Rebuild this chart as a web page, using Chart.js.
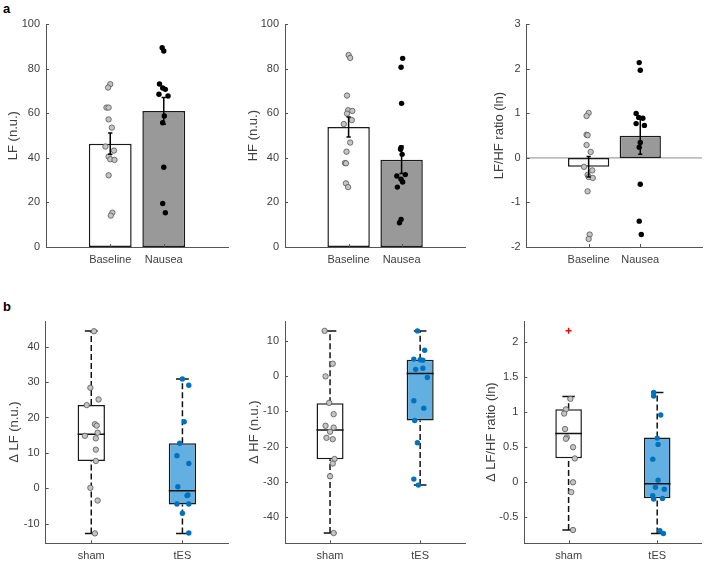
<!DOCTYPE html>
<html>
<head>
<meta charset="utf-8">
<title>HRV figure</title>
<script src="https://cdn.jsdelivr.net/npm/chart.js@4.4.1/dist/chart.umd.min.js"></script>
<style>
    html, body { margin: 0; padding: 0; background: #fff; }
    #figure { position: relative; width: 707px; height: 562px; overflow: hidden; }
    #figure canvas { position: absolute; }
    .panel-label { position: absolute; font: bold 13px "Liberation Sans", Arial, sans-serif; line-height: 13px; color: #000; }
</style>
</head>
<body>
<div id="figure">
    <div class="panel-label" style="left:3px;top:2px">a</div>
    <div class="panel-label" style="left:3px;top:300px">b</div>
    <canvas id="lfChart"></canvas>
    <canvas id="hfChart"></canvas>
    <canvas id="ratioChart"></canvas>
    <canvas id="dLfChart"></canvas>
    <canvas id="dHfChart"></canvas>
    <canvas id="dRatioChart"></canvas>
</div>
<script>
// ---------- panel a: group means, SEM and single subjects ----------
const groupLabels = ['Baseline', 'Nausea'];

const lfMean = [46.4, 61.1];
const lfSem = [4.8, 6.0];
const lfBaseline = [73.1, 71.6, 62.6, 62.6, 57.3, 53.6, 45.1, 43.3, 40.6, 39.4, 39.1, 32.2, 15.4, 14.1];
const lfBaselineJitter = [0, -0.04, -0.07, -0.03, -0.03, 0.03, -0.09, 0.07, -0.03, 0, 0.08, -0.03, 0.04, 0.01];
const lfNausea = [89.5, 88.0, 73.2, 71.4, 70.8, 68.6, 67.8, 58.8, 55.8, 35.8, 19.5, 15.4];
const lfNauseaJitter = [-0.03, 0, -0.08, -0.02, 0.03, -0.09, 0.08, 0.01, -0.02, 0, -0.02, 0.03];

const hfMean = [53.9, 39.2];
const hfSem = [4.5, 6.2];
const hfBaseline = [86.2, 84.9, 68.0, 61.4, 61.1, 59.9, 57.0, 55.2, 46.9, 42.8, 37.7, 37.6, 28.6, 26.9];
const hfBaselineJitter = [0, 0.03, -0.03, -0.01, 0.07, -0.03, 0.06, -0.09, 0.03, -0.04, -0.07, -0.05, -0.05, -0.01];
const hfNausea = [84.7, 80.7, 64.5, 44.6, 43.9, 41.6, 32.5, 31.9, 30.4, 29.2, 26.9, 12.4, 10.9];
const hfNauseaJitter = [0.02, -0.01, 0, -0.01, -0.02, 0.01, 0.07, -0.09, -0.01, 0.02, -0.08, -0.01, -0.04];

const ratioMean = [-0.2, 0.5];
const ratioSem = [0.23, 0.42];
const ratioBaseline = [1.01, 0.94, 0.52, 0.51, 0.29, 0.135, -0.2, -0.28, -0.38, -0.43, -0.45, -0.75, -1.72, -1.82];
const ratioBaselineJitter = [0, -0.04, -0.04, -0.02, -0.04, 0.04, -0.09, 0.07, -0.02, 0, 0.08, -0.02, 0.02, 0];
const ratioNausea = [2.14, 1.97, 1.0, 0.91, 0.89, 0.77, 0.73, 0.345, 0.24, -0.59, -1.42, -1.72];
const ratioNauseaJitter = [-0.02, 0, -0.08, -0.03, 0.05, -0.08, 0.08, 0, -0.02, 0, -0.02, 0.02];

const pctTicks = [0, 20, 40, 60, 80, 100];
const ratioTicks = [-2, -1, 0, 1, 2, 3];

// ---------- panel b: change scores, sham vs tES ----------
const condLabels = ['sham', 'tES'];

// five-number summaries: [lower whisker, Q1, median, Q3, upper whisker]
const dLfSham = [-12.8, 7.7, 15.25, 23.5, 44.5];
const dLfTes = [-12.8, -4.6, -0.7, 12.7, 30.9];
const dHfSham = [-44.5, -23.6, -15.3, -7.7, 12.8];
const dHfTes = [-30.9, -12.6, 0.75, 4.6, 12.8];
const dRatioSham = [-0.68, 0.343, 0.695, 1.04, 1.224];
const dRatioTes = [-0.73, -0.229, -0.02, 0.638, 1.28];
const dRatioShamOutliers = [2.16];

const dLfShamPts = [44.4, 28.4, 25.1, 23.5, 18.1, 17.7, 15.7, 14.8, 14.1, 10.9, 7.7, 0.1, -3.5, -12.8];
const dLfShamJitter = [0.03, -0.01, 0.08, -0.05, 0.04, 0.06, 0.07, -0.07, 0.05, 0.05, 0.05, -0.01, 0.07, 0.04];
const dLfTesPts = [30.9, 29.1, 18.8, 12.7, 9.2, 7.0, 0.4, -1.9, -2.1, -4.5, -4.5, -7.1, -12.7];
const dLfTesJitter = [0, 0.07, 0.02, -0.03, -0.06, 0.07, -0.05, 0.06, 0.05, -0.06, 0.07, 0, 0.07];

const dHfShamPts = [12.8, 3.5, -0.1, -7.6, -10.8, -14.1, -14.6, -15.8, -17.5, -17.9, -23.5, -24.8, -28.4, -44.5];
const dHfShamJitter = [-0.06, 0.03, -0.05, -0.01, 0.04, -0.05, 0.04, 0, -0.04, 0.03, 0.05, 0.03, 0, 0.04];
const dHfTesPts = [12.8, 7.3, 4.8, 4.6, 4.5, 1.9, 2.2, -0.4, -7.0, -9.1, -12.6, -18.9, -29.2, -30.9];
const dHfTesJitter = [-0.03, 0.05, -0.07, 0, 0.03, -0.05, 0.03, 0.08, -0.07, 0.04, -0.06, -0.03, -0.07, -0.02];

const dRatioShamPts = [1.19, 1.04, 0.98, 0.76, 0.64, 0.62, 0.5, 0.34, 0.0, -0.14, -0.68];
const dRatioShamJitter = [0.02, -0.03, -0.05, -0.04, -0.02, -0.03, 0.05, 0.07, 0.05, 0.03, 0.05];
const dRatioTesPts = [1.28, 1.23, 0.96, 0.63, 0.54, 0.33, 0.03, -0.07, -0.10, -0.19, -0.24, -0.23, -0.69, -0.73];
const dRatioTesJitter = [-0.04, -0.04, 0.04, 0, 0.01, -0.05, 0.01, -0.02, 0.08, -0.05, -0.04, 0.06, 0.03, 0.07];

const dLfTicks = [-10, 0, 10, 20, 30, 40];
const dHfTicks = [-40, -30, -20, -10, 0, 10];
const dRatioTicks = [-0.5, 0, 0.5, 1, 1.5, 2];

// ---------- styling / layout ----------
const textColor = '#404040';
const axisColor = '#555555';
const edgeColor = '#1a1a1a';
const CAP_BAR = 0.04;     // half width of error bar caps (x units)
const CAP_BOX = 0.07;     // half width of whisker caps
const BOX_HALF = 0.15;

const panelGeom = {
    lf:     { left: 0,   top: 0,   width: 235, height: 280, yWidth: 46,   padRight: 7, padTop: 24.3, xHeight: 33,   titlePad: 6.1 },
    hf:     { left: 235, top: 0,   width: 235, height: 280, yWidth: 50,   padRight: 3, padTop: 24.3, xHeight: 33,   titlePad: 11.1 },
    ratio:  { left: 470, top: 0,   width: 237, height: 280, yWidth: 56.7, padRight: 0, padTop: 24.3, xHeight: 33,   titlePad: 21.8 },
    dLf:    { left: 0,   top: 280, width: 235, height: 282, yWidth: 45.7, padRight: 7, padTop: 41,   xHeight: 18.7, titlePad: 6.5 },
    dHf:    { left: 235, top: 280, width: 235, height: 282, yWidth: 50,   padRight: 2, padTop: 41,   xHeight: 18.7, titlePad: 11.5 },
    dRatio: { left: 470, top: 280, width: 237, height: 282, yWidth: 54.3, padRight: 0, padTop: 41,   xHeight: 18.7, titlePad: 13.6 }
};

Chart.defaults.font.family = '"Liberation Sans", Arial, Helvetica, sans-serif';
Chart.defaults.font.size = 11;
Chart.defaults.color = textColor;

let charts = {};

// MATLAB style short ticks pointing into the axes
const inwardTicks = {
    id: 'inwardTicks',
    afterDatasetsDraw(chart) {
        const { ctx, chartArea, scales } = chart;
        ctx.save();
        ctx.strokeStyle = axisColor;
        ctx.lineWidth = 1;
        ctx.beginPath();
        scales.y.ticks.forEach(t => {
            const py = Math.round(scales.y.getPixelForValue(t.value)) + 0.5;
            ctx.moveTo(chartArea.left, py);
            ctx.lineTo(chartArea.left + 3, py);
        });
        scales.x.ticks.forEach(t => {
            const px = Math.round(scales.x.getPixelForValue(t.value)) + 0.5;
            ctx.moveTo(px, chartArea.bottom);
            ctx.lineTo(px, chartArea.bottom - 3);
        });
        ctx.stroke();
        ctx.restore();
    }
};

function placeCanvas(id, geom) {
    const canvas = document.getElementById(id);
    canvas.width = geom.width;
    canvas.height = geom.height;
    canvas.style.left = geom.left + 'px';
    canvas.style.top = geom.top + 'px';
    canvas.style.width = geom.width + 'px';
    canvas.style.height = geom.height + 'px';
    return canvas.getContext('2d');
}

function jittered(values, jitter, center) {
    return values.map((v, i) => ({ x: center + jitter[i], y: v }));
}

function lineSet(points, color, order, dash) {
    return {
        type: 'line',
        data: points,
        borderColor: color,
        borderWidth: 1.5,
        borderDash: dash || [],
        pointRadius: 0,
        tension: 0,
        fill: false,
        spanGaps: false,
        order: order
    };
}

function dotSet(points, fill, border, radius, order) {
    return {
        type: 'scatter',
        data: points,
        backgroundColor: fill,
        borderColor: border,
        pointBorderWidth: fill === border ? 0 : 0.8,
        pointRadius: radius,
        order: order
    };
}

function panelOptions(geom, xRange, yRange, yTicks, xLabels, yTitle) {
    return {
        responsive: false,
        animation: false,
        layout: { padding: { left: 0, right: geom.padRight, top: geom.padTop, bottom: 0 } },
        plugins: { legend: { display: false }, tooltip: { enabled: false } },
        scales: {
            x: {
                type: 'linear',
                min: xRange[0],
                max: xRange[1],
                bounds: 'data',
                offset: false,
                grid: { display: false, drawTicks: false },
                border: { display: true, color: axisColor, width: 1 },
                afterBuildTicks: scale => { scale.ticks = xLabels.map((_, i) => ({ value: i + 1 })); },
                afterFit: scale => { scale.height = geom.xHeight; },
                ticks: { autoSkip: false, maxRotation: 0, padding: 6, color: textColor, callback: (v, i) => xLabels[i] }
            },
            y: {
                type: 'linear',
                min: yRange[0],
                max: yRange[1],
                bounds: 'data',
                grid: { display: false, drawTicks: false },
                border: { display: true, color: axisColor, width: 1 },
                afterBuildTicks: scale => { scale.ticks = yTicks.map(v => ({ value: v })); },
                afterFit: scale => { scale.width = geom.yWidth; },
                ticks: { padding: 6, color: textColor, callback: v => String(v) },
                title: { display: true, text: yTitle, color: textColor, font: { size: 13 }, padding: { top: geom.titlePad, bottom: 0 } }
            }
        }
    };
}

function makeBarPanel(id, geom, means, sems, baseVals, baseJit, nauVals, nauJit, yTicks, yRange, yTitle, zeroLine) {
    const xRange = [-0.2, 3.2];
    const errPts = [];
    means.forEach((m, i) => {
        const c = i + 1, lo = m - sems[i], hi = m + sems[i];
        errPts.push({ x: c, y: lo }, { x: c, y: hi }, { x: c, y: null });
        errPts.push({ x: c - CAP_BAR, y: hi }, { x: c + CAP_BAR, y: hi }, { x: c, y: null });
        errPts.push({ x: c - CAP_BAR, y: lo }, { x: c + CAP_BAR, y: lo }, { x: c, y: null });
    });

    const datasets = [
        lineSet(errPts, '#000000', 1),
        dotSet(jittered(nauVals, nauJit, 2), '#000000', '#000000', 2.7, 2),
        dotSet(jittered(baseVals, baseJit, 1), '#c4c4c4', '#555555', 2.7, 3),
        {
            type: 'bar',
            data: means.map((m, i) => ({ x: i + 1, y: m })),
            backgroundColor: ['#ffffff', '#999999'],
            borderColor: edgeColor,
            borderWidth: 1.5,
            borderSkipped: false,
            categoryPercentage: 1,
            barPercentage: 0.8,
            order: 4
        }
    ];
    if (zeroLine) {
        const zl = lineSet([{ x: xRange[0], y: 0 }, { x: xRange[1], y: 0 }], '#8c8c8c', 5);
        zl.borderWidth = 1;
        datasets.push(zl);
    }

    charts[id] = new Chart(placeCanvas(id, geom), {
        type: 'bar',
        data: { datasets: datasets },
        options: panelOptions(geom, xRange, yRange, yTicks, groupLabels, yTitle),
        plugins: [inwardTicks]
    });
}

function makeBoxPanel(id, geom, shamBox, tesBox, shamVals, shamJit, tesVals, tesJit, yTicks, yRange, yTitle, outliers) {
    const xRange = [0.5, 2.5];
    const boxes = [shamBox, tesBox];
    const whiskerPts = [], capPts = [], medianPts = [];
    boxes.forEach((b, i) => {
        const c = i + 1;
        whiskerPts.push({ x: c, y: b[3] }, { x: c, y: b[4] }, { x: c, y: null });
        whiskerPts.push({ x: c, y: b[0] }, { x: c, y: b[1] }, { x: c, y: null });
        capPts.push({ x: c - CAP_BOX, y: b[4] }, { x: c + CAP_BOX, y: b[4] }, { x: c, y: null });
        capPts.push({ x: c - CAP_BOX, y: b[0] }, { x: c + CAP_BOX, y: b[0] }, { x: c, y: null });
        medianPts.push({ x: c - BOX_HALF, y: b[2] }, { x: c + BOX_HALF, y: b[2] }, { x: c, y: null });
    });

    const datasets = [
        dotSet(jittered(tesVals, tesJit, 2), '#0072bd', '#0072bd', 2.7, 1),
        dotSet(jittered(shamVals, shamJit, 1), '#c4c4c4', '#555555', 2.7, 2),
        lineSet(medianPts, '#111111', 3),
        lineSet(capPts, '#111111', 3),
        lineSet(whiskerPts, '#111111', 4, [6, 3]),
        {
            type: 'bar',
            data: boxes.map((b, i) => ({ x: i + 1, y: [b[1], b[3]] })),
            backgroundColor: ['#ffffff', '#62afe2'],
            borderColor: edgeColor,
            borderWidth: 1.5,
            borderSkipped: false,
            categoryPercentage: 1,
            barPercentage: BOX_HALF * 2,
            order: 5
        }
    ];
    if (outliers) {
        datasets.push({
            type: 'scatter',
            data: outliers.map(v => ({ x: 1, y: v })),
            pointStyle: 'cross',
            pointRadius: 3,
            borderColor: '#ff0000',
            pointBorderWidth: 1.5,
            order: 0
        });
    }

    charts[id] = new Chart(placeCanvas(id, geom), {
        type: 'bar',
        data: { datasets: datasets },
        options: panelOptions(geom, xRange, yRange, yTicks, condLabels, yTitle),
        plugins: [inwardTicks]
    });
}

document.addEventListener('DOMContentLoaded', function () {
    makeBarPanel('lfChart', panelGeom.lf, lfMean, lfSem, lfBaseline, lfBaselineJitter, lfNausea, lfNauseaJitter,
        pctTicks, [0, 100], 'LF (n.u.)', false);
    makeBarPanel('hfChart', panelGeom.hf, hfMean, hfSem, hfBaseline, hfBaselineJitter, hfNausea, hfNauseaJitter,
        pctTicks, [0, 100], 'HF (n.u.)', false);
    makeBarPanel('ratioChart', panelGeom.ratio, ratioMean, ratioSem, ratioBaseline, ratioBaselineJitter, ratioNausea, ratioNauseaJitter,
        ratioTicks, [-2, 3], 'LF/HF ratio (ln)', true);

    makeBoxPanel('dLfChart', panelGeom.dLf, dLfSham, dLfTes, dLfShamPts, dLfShamJitter, dLfTesPts, dLfTesJitter,
        dLfTicks, [-15.6, 47.3], 'Δ LF (n.u.)');
    makeBoxPanel('dHfChart', panelGeom.dHf, dHfSham, dHfTes, dHfShamPts, dHfShamJitter, dHfTesPts, dHfTesJitter,
        dHfTicks, [-47.4, 15.6], 'Δ HF (n.u.)');
    makeBoxPanel('dRatioChart', panelGeom.dRatio, dRatioSham, dRatioTes, dRatioShamPts, dRatioShamJitter, dRatioTesPts, dRatioTesJitter,
        dRatioTicks, [-0.87, 2.3], 'Δ LF/HF ratio (ln)', dRatioShamOutliers);
});
</script>
</body>
</html>
